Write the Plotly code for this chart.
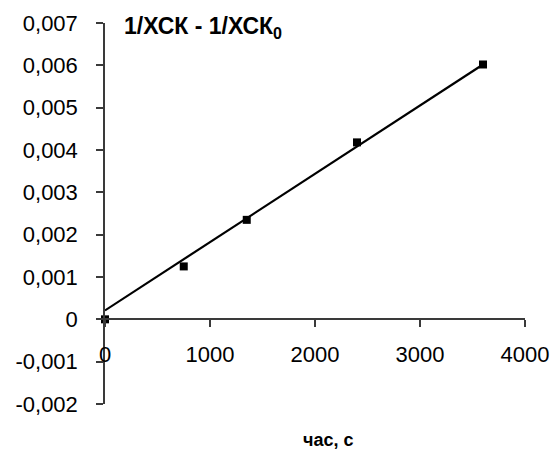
import plotly.graph_objects as go

# Data
time_s = [0, 750, 1350, 2400, 3600]
inv_diff = [0.0, 0.00125, 0.00235, 0.00418, 0.00602]

# Linear trend line (end points of the fitted line)
trend_x = [0, 3600]
trend_y = [0.00021, 0.00602]

x_ticks = [0, 1000, 2000, 3000, 4000]
x_tick_labels = ["0", "1000", "2000", "3000", "4000"]
y_ticks = [-0.002, -0.001, 0, 0.001, 0.002, 0.003, 0.004, 0.005, 0.006, 0.007]
y_tick_labels = ["-0,002", "-0,001", "0", "0,001", "0,002", "0,003", "0,004",
                 "0,005", "0,006", "0,007"]

title_text = "1/ХСК - 1/ХСК<sub>0</sub>"
x_title = "час, с"

FONT = "Liberation Sans, Arial, sans-serif"
AXIS_COLOR = "#3a3a3a"

fig = go.Figure()
fig.add_trace(go.Scatter(x=trend_x, y=trend_y, mode="lines",
                         line=dict(color="black", width=2.2), showlegend=False,
                         hoverinfo="skip"))
fig.add_trace(go.Scatter(x=time_s, y=inv_diff, mode="markers",
                         marker=dict(symbol="square", size=8, color="black"),
                         showlegend=False, cliponaxis=False))

y_min, y_max = -0.002, 0.007
fig.update_layout(
    width=552, height=451,
    margin=dict(l=105, r=27, t=23, b=47, autoexpand=False),
    paper_bgcolor="white", plot_bgcolor="white",
    font=dict(family=FONT, size=22, color="black"),
    xaxis=dict(range=[0, 4000], tickvals=x_ticks, ticktext=x_tick_labels,
               showgrid=False, zeroline=False, showline=True,
               linecolor=AXIS_COLOR, linewidth=1.5, automargin=False,
               ticks="outside", ticklen=7, tickwidth=1.5, tickcolor=AXIS_COLOR,
               anchor="free", position=(0 - y_min) / (y_max - y_min),
               ticklabelstandoff=9,
               tickfont=dict(size=22)),
    yaxis=dict(range=[y_min, y_max], tickvals=y_ticks, ticktext=y_tick_labels,
               showgrid=False, zeroline=False, showline=True,
               linecolor=AXIS_COLOR, linewidth=1.5, automargin=False,
               ticks="outside", ticklen=7, tickwidth=1.5, tickcolor=AXIS_COLOR,
               ticklabelstandoff=14,
               tickfont=dict(size=22)),
    annotations=[
        dict(text="<b>" + title_text + "</b>", x=0.04, y=y_max, xref="paper",
             yref="y", xanchor="left", yanchor="middle", showarrow=False,
             yshift=-4, font=dict(size=23, family=FONT)),
        dict(text="<b>" + x_title + "</b>", x=0.53, y=-0.095, xref="paper",
             yref="paper", xanchor="center", yanchor="middle", showarrow=False,
             font=dict(size=18, family=FONT)),
    ],
)

fig.write_html("out.html", config={"displayModeBar": False},
               post_script="document.body.style.margin='0';"
                           "document.body.style.overflow='hidden';")
